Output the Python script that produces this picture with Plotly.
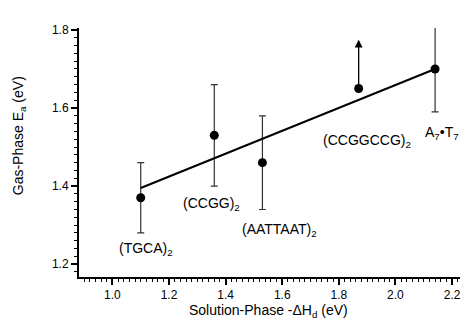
import plotly.graph_objects as go

# Data
labels = ["(TGCA)<sub>2</sub>", "(CCGG)<sub>2</sub>", "(AATTAAT)<sub>2</sub>", "(CCGGCCG)<sub>2</sub>", "A<sub>7</sub>•T<sub>7</sub>"]
dH = [1.10, 1.36, 1.53, 1.87, 2.14]
Ea = [1.37, 1.53, 1.46, 1.65, 1.70]
err = [0.09, 0.13, 0.12, 0.0, 0.11]
has_err = [True, True, True, False, True]
lower_limit_arrow_top = 1.775  # arrow tip for (CCGGCCG)2 (lower limit)
fit_x = [1.10, 2.14]
fit_y = [1.395, 1.70]
label_x = [1.12, 1.35, 1.59, 1.90, 2.165]
label_y = [1.238, 1.354, 1.287, 1.515, 1.536]

font = "Liberation Sans, Arial, sans-serif"
fig = go.Figure()

ex = [x for x, h in zip(dH, has_err) if h]
ey = [y for y, h in zip(Ea, has_err) if h]
ee = [e for e, h in zip(err, has_err) if h]
fig.add_trace(go.Scatter(x=ex, y=ey, mode="markers",
                         marker=dict(size=0.1, color="rgba(0,0,0,0)"),
                         error_y=dict(type="data", array=ee, color="#333", thickness=1.2, width=3.5),
                         showlegend=False, hoverinfo="skip"))
fig.add_trace(go.Scatter(x=fit_x, y=fit_y, mode="lines", line=dict(color="black", width=2),
                         showlegend=False))
fig.add_trace(go.Scatter(x=dH, y=Ea, mode="markers", marker=dict(size=9, color="black"),
                         showlegend=False))

fig.add_annotation(x=dH[3], y=lower_limit_arrow_top, ax=dH[3], ay=Ea[3], xref="x", yref="y",
                   axref="x", ayref="y", showarrow=True, arrowhead=2, arrowsize=1.2,
                   arrowwidth=1.3, arrowcolor="black", text="")

for t, x, y in zip(labels, label_x, label_y):
    fig.add_annotation(x=x, y=y, xref="x", yref="y", text=t, showarrow=False,
                       font=dict(family=font, size=14, color="black"))

# axis titles
fig.add_annotation(x=0.497, y=-0.137, xref="paper", yref="paper", showarrow=False,
                   text="Solution-Phase -ΔH<sub>d</sub> (eV)", xanchor="center", yanchor="middle",
                   font=dict(family=font, size=14, color="black"))
fig.add_annotation(x=-0.157, y=0.566, xref="paper", yref="paper", showarrow=False,
                   text="Gas-Phase E<sub>a</sub> (eV)", textangle=-90, xanchor="center", yanchor="middle",
                   font=dict(family=font, size=14, color="black"))

fig.update_layout(
    width=470, height=323,
    margin=dict(l=71, r=18, t=20, b=54),
    paper_bgcolor="white", plot_bgcolor="white",
    font=dict(family=font, size=12, color="black"),
)
fig.update_xaxes(range=[0.882, 2.228], tickvals=[1.0, 1.2, 1.4, 1.6, 1.8, 2.0, 2.2],
                 ticktext=["1.0", "1.2", "1.4", "1.6", "1.8", "2.0", "2.2"],
                 ticks="outside", ticklen=6, tickwidth=1.5, tickcolor="black",
                 tickfont=dict(size=12),
                 minor=dict(dtick=0.02, tick0=0, ticks="outside", ticklen=3, tickwidth=1, tickcolor="black"),
                 showline=True, linecolor="black", linewidth=2, showgrid=False, zeroline=False)
fig.update_yaxes(range=[1.167, 1.805], tickvals=[1.2, 1.4, 1.6, 1.8],
                 ticktext=["1.2", "1.4", "1.6", "1.8"],
                 ticks="outside", ticklen=6, tickwidth=1.5, tickcolor="black",
                 tickfont=dict(size=12),
                 minor=dict(dtick=0.02, tick0=0, ticks="outside", ticklen=3, tickwidth=1, tickcolor="black"),
                 showline=True, linecolor="black", linewidth=2, showgrid=False, zeroline=False)

fig.write_html("out.html")
